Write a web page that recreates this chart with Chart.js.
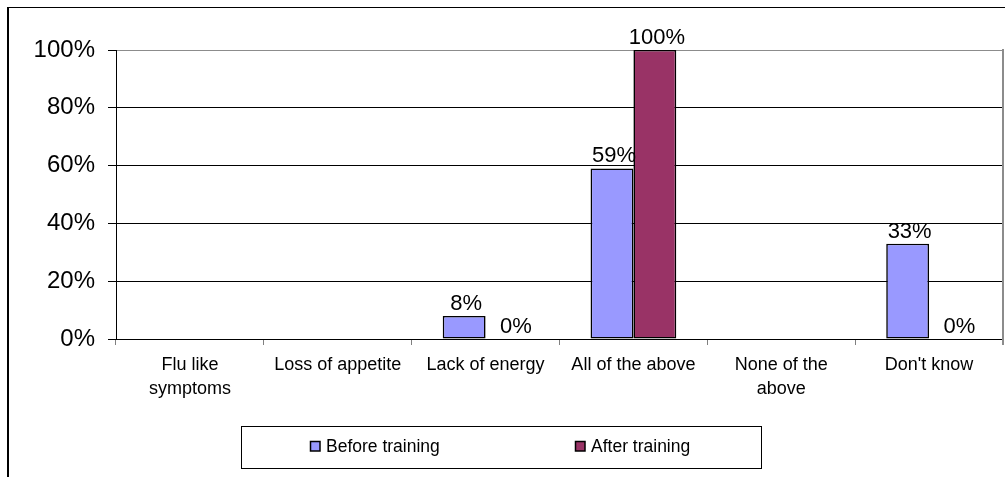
<!DOCTYPE html>
<html>
<head>
<meta charset="utf-8">
<script src="https://cdn.jsdelivr.net/npm/chart.js@4/dist/chart.umd.min.js"></script>
<style>
  html, body { margin: 0; padding: 0; background: #ffffff; }
  #wrap { width: 1005px; height: 477px; }
  canvas { display: block; }
</style>
</head>
<body>
<div id="wrap"><canvas id="c" width="1005" height="477"></canvas></div>
<script>
// Symptom categories (multi-line labels are arrays)
const categories = [
  ["Flu like", "symptoms"],
  "Loss of appetite",
  "Lack of energy",
  "All of the above",
  ["None of the", "above"],
  "Don't know"
];

// Share of respondents (%) per category
const beforeTraining = [null, null, 8, 59, null, 33];
const afterTraining  = [null, null, 0, 100, null, 0];

const seriesNames = ["Before training", "After training"];
const seriesColors = ["#9999FF", "#993366"];

// Y axis tick values (%)
const yTicks = [0, 20, 40, 60, 80, 100];

const FONT = "'Liberation Sans', Arial, sans-serif";

// Outer frame, plot border on the right
const framePlugin = {
  id: 'frame',
  beforeDraw(chart) {
    const ctx = chart.ctx;
    ctx.save();
    ctx.fillStyle = '#ffffff';
    ctx.fillRect(0, 0, chart.width, chart.height);
    ctx.fillStyle = '#000000';
    ctx.fillRect(7, 7, chart.width - 7, 1);
    ctx.fillRect(7, 7, 2, chart.height - 7);
    ctx.restore();
  },
  afterDraw(chart) {
    const ctx = chart.ctx;
    const a = chart.chartArea;
    ctx.save();
    ctx.strokeStyle = '#8c8c8c';
    ctx.lineWidth = 2;
    ctx.beginPath();
    ctx.moveTo(a.right, a.top - 1);
    ctx.lineTo(a.right, a.bottom + 6);
    ctx.stroke();
    ctx.restore();
  }
};

// Value labels above each bar
const valueLabels = {
  id: 'valueLabels',
  afterDatasetsDraw(chart) {
    const ctx = chart.ctx;
    ctx.save();
    ctx.fillStyle = '#000000';
    ctx.font = '22px ' + FONT;
    ctx.textAlign = 'center';
    ctx.textBaseline = 'alphabetic';
    chart.data.datasets.forEach((ds, di) => {
      const meta = chart.getDatasetMeta(di);
      meta.data.forEach((el, i) => {
        const v = ds.data[i];
        if (v === null || v === undefined) return;
        const dx = v === 0 ? 9 : 2;
        ctx.fillText(v + '%', el.x + dx, el.y - 6);
      });
    });
    ctx.restore();
  }
};

// Boxed legend below the axis
const boxLegend = {
  id: 'boxLegend',
  afterDraw(chart) {
    const ctx = chart.ctx;
    ctx.save();
    ctx.strokeStyle = '#000000';
    ctx.lineWidth = 1;
    ctx.strokeRect(241.5, 426.5, 520, 42);
    const itemX = [310, 575];
    ctx.font = '17.5px ' + FONT;
    ctx.textAlign = 'left';
    ctx.textBaseline = 'middle';
    chart.data.datasets.forEach((ds, di) => {
      const x = itemX[di];
      ctx.fillStyle = ds.backgroundColor;
      ctx.fillRect(x, 441, 10, 10);
      ctx.strokeStyle = '#000000';
      ctx.lineWidth = 1.5;
      ctx.strokeRect(x + 0.5, 441.5, 9.5, 9.5);
      ctx.fillStyle = '#000000';
      ctx.fillText(ds.label, x + 16, 447);
    });
    ctx.restore();
  }
};

new Chart(document.getElementById('c'), {
  type: 'bar',
  data: {
    labels: categories,
    datasets: [
      {
        label: seriesNames[0],
        data: beforeTraining,
        backgroundColor: seriesColors[0],
        borderColor: '#000000',
        borderWidth: c => (c.raw ? 1.6 : 0),
        borderSkipped: false
      },
      {
        label: seriesNames[1],
        data: afterTraining,
        backgroundColor: seriesColors[1],
        borderColor: '#000000',
        borderWidth: c => (c.raw ? 1.6 : 0),
        borderSkipped: false
      }
    ]
  },
  options: {
    responsive: false,
    maintainAspectRatio: false,
    devicePixelRatio: 1,
    animation: false,
    categoryPercentage: 0.58,
    barPercentage: 1.0,
    layout: { padding: { left: 0, top: 50, right: 2, bottom: 72 } },
    plugins: {
      legend: { display: false },
      tooltip: { enabled: false }
    },
    scales: {
      x: {
        afterFit(scale) { scale.height = 66; },
        grid: {
          offset: true,
          drawOnChartArea: false,
          tickLength: 6,
          color: '#808080'
        },
        border: { display: true, color: '#000000', width: 1 },
        ticks: {
          color: '#000000',
          padding: 8,
          maxRotation: 0,
          autoSkip: false,
          font: { family: FONT, size: 18, lineHeight: 1.33 }
        }
      },
      y: {
        min: 0,
        max: 100,
        afterFit(scale) { scale.width = 116; },
        afterBuildTicks(scale) { scale.ticks = yTicks.map(v => ({ value: v })); },
        grid: {
          color: c => (c.tick && c.tick.value === 100 ? '#8c8c8c' : '#000000'),
          tickColor: '#000000',
          tickLength: 8,
          lineWidth: 1
        },
        border: { display: true, color: '#000000', width: 1 },
        ticks: {
          color: '#000000',
          padding: 13,
          callback: v => v + '%',
          font: { family: FONT, size: 24 }
        }
      }
    }
  },
  plugins: [framePlugin, valueLabels, boxLegend]
});
</script>
</body>
</html>
